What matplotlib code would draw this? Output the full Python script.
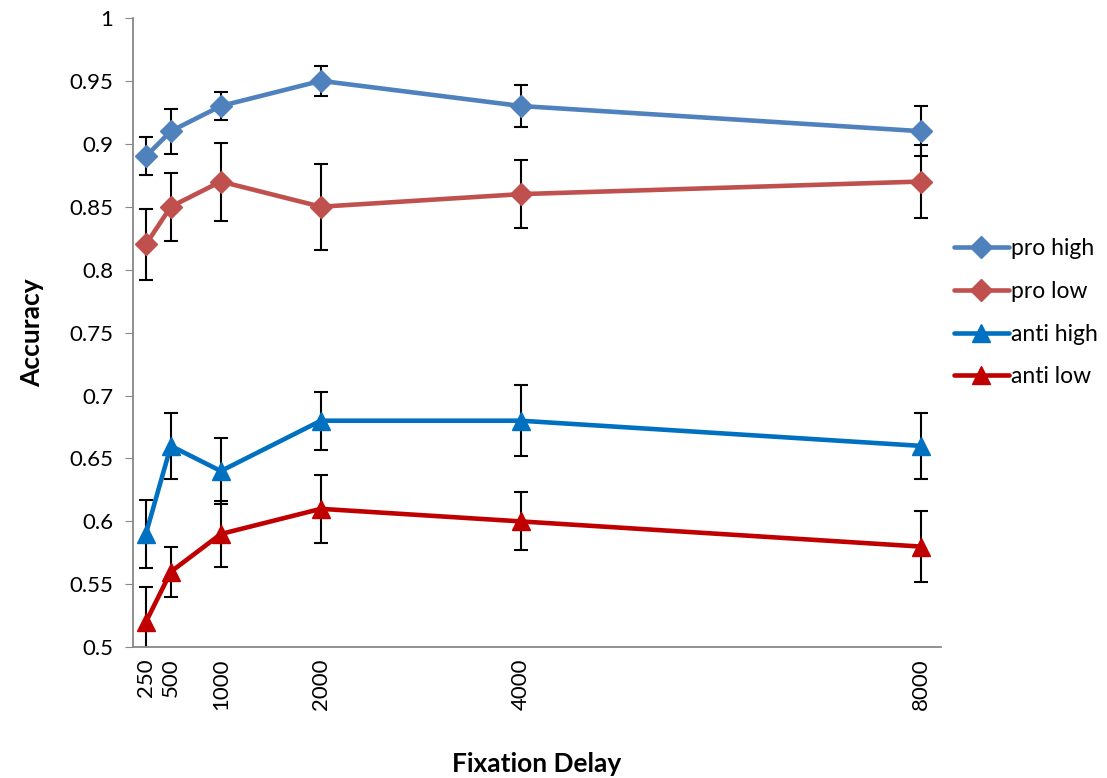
import matplotlib.pyplot as plt

# data
delays = [250, 500, 1000, 2000, 4000, 8000]
pro_high = [0.89, 0.91, 0.93, 0.95, 0.93, 0.91]
pro_high_err = [0.015, 0.018, 0.011, 0.012, 0.017, 0.02]
pro_low = [0.82, 0.85, 0.87, 0.85, 0.86, 0.87]
pro_low_err = [0.028, 0.027, 0.031, 0.034, 0.027, 0.029]
anti_high = [0.59, 0.66, 0.64, 0.68, 0.68, 0.66]
anti_high_err = [0.027, 0.026, 0.026, 0.023, 0.028, 0.026]
anti_low = [0.52, 0.56, 0.59, 0.61, 0.60, 0.58]
anti_low_err = [0.028, 0.02, 0.026, 0.027, 0.023, 0.028]
y_ticks = [0.5, 0.55, 0.6, 0.65, 0.7, 0.75, 0.8, 0.85, 0.9, 0.95, 1.0]
y_labels = ['0.5', '0.55', '0.6', '0.65', '0.7', '0.75', '0.8', '0.85', '0.9', '0.95', '1']

plt.rcParams['font.family'] = ['Lato', 'DejaVu Sans']

fig = plt.figure(figsize=(11.07, 7.78), dpi=100)
ax = fig.add_axes([0.120, 0.168, 0.730, 0.809])

series = [
    ('pro high', pro_high, pro_high_err, '#4F81BD', 'D', 11),
    ('pro low', pro_low, pro_low_err, '#C0504D', 'D', 11),
    ('anti high', anti_high, anti_high_err, '#0070C0', '^', 12.5),
    ('anti low', anti_low, anti_low_err, '#C00000', '^', 12.5),
]

for name, vals, err, col, mk, ms in series:
    ax.errorbar(delays, vals, yerr=err, fmt='none', ecolor='black',
                elinewidth=1.5, capsize=5, capthick=1.5, zorder=1)
for name, vals, err, col, mk, ms in series:
    ax.plot(delays, vals, color=col, linewidth=3.3, marker=mk,
            markersize=ms, label=name, zorder=2, solid_capstyle='round')

ax.set_xlim(120, 8200)
ax.set_ylim(0.5, 1.0)
ax.set_yticks(y_ticks)
ax.set_yticklabels(y_labels)
ax.set_xticks(delays)
ax.set_xticklabels([str(d) for d in delays], rotation=90)

for s in ['top', 'right']:
    ax.spines[s].set_visible(False)
for s in ['left', 'bottom']:
    ax.spines[s].set_color('#888888')
    ax.spines[s].set_linewidth(1.3)
ax.tick_params(axis='y', length=6, color='#888888', labelsize=16, pad=8)
ax.tick_params(axis='x', length=0, labelsize=16, pad=8)

ax.set_ylabel('Accuracy', fontsize=19, fontweight='bold', labelpad=18)
ax.set_xlabel('Fixation Delay', fontsize=19, fontweight='bold', labelpad=30)

fig.legend(loc='center left', bbox_to_anchor=(0.843, 0.598), frameon=False,
           fontsize=16.5, handlelength=2.4, handletextpad=0.1, labelspacing=0.95)

plt.savefig('out.png', dpi=100)
